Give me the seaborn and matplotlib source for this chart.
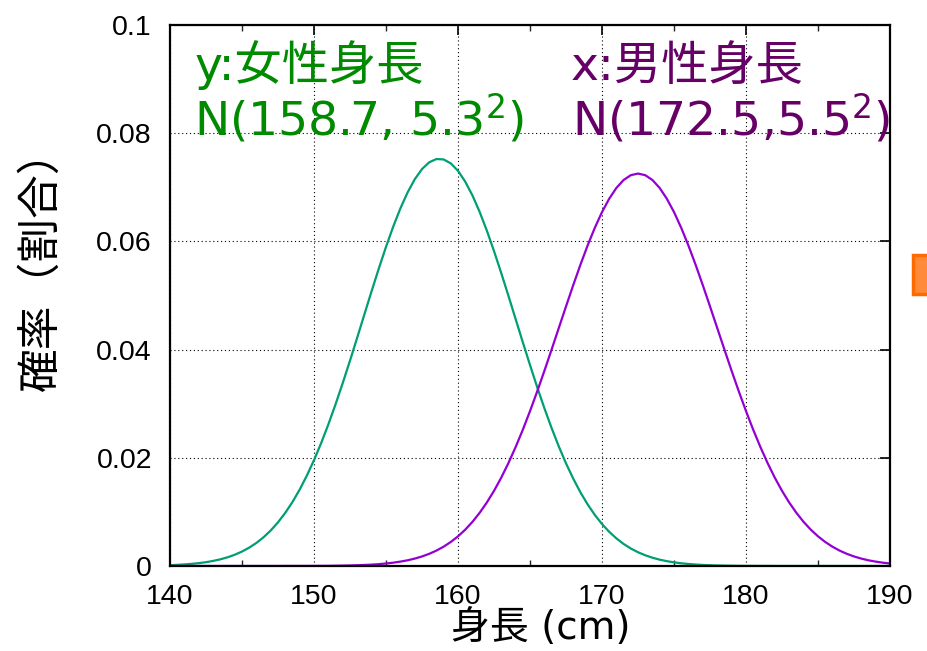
import matplotlib
matplotlib.use("Agg")
import matplotlib.pyplot as plt
import seaborn as sns
import pandas as pd
from matplotlib.patches import Rectangle

# heights (cm), 0.5 cm steps from 140 to 190
height_cm = [140 + 0.5 * i for i in range(101)]

# women: values (peak ~0.075 near 158.7)
female = [0.00015, 0.00021, 0.00029, 0.00039, 0.00053, 0.00070, 0.00094, 0.00123,
          0.00161, 0.00208, 0.00267, 0.00339, 0.00426, 0.00532, 0.00658, 0.00807,
          0.00981, 0.01181, 0.01410, 0.01669, 0.01957, 0.02274, 0.02620, 0.02992,
          0.03386, 0.03797, 0.04221, 0.04652, 0.05080, 0.05499, 0.05899, 0.06273,
          0.06611, 0.06906, 0.07150, 0.07337, 0.07462, 0.07522, 0.07515, 0.07442,
          0.07304, 0.07105, 0.06851, 0.06547, 0.06201, 0.05821, 0.05416, 0.04995,
          0.04565, 0.04136, 0.03714, 0.03305, 0.02915, 0.02549, 0.02209, 0.01897,
          0.01615, 0.01362, 0.01139, 0.00944, 0.00775, 0.00631, 0.00510, 0.00407,
          0.00323, 0.00254, 0.00198, 0.00153, 0.00117, 0.00089, 0.00067, 0.00050,
          0.00037, 0.00027, 0.00019, 0.00014, 0.00010, 0.00007, 0.00005, 0.00003,
          0.00002, 0.00002, 0.00001, 0.00001,
          0.0, 0.0, 0.0, 0.0, 0.0, 0.0, 0.0, 0.0, 0.0, 0.0, 0.0, 0.0, 0.0, 0.0, 0.0,
          0.0, 0.0]

# men: values (peak ~0.0725 near 172.5)
male = [0.0, 0.0, 0.0, 0.0, 0.0, 0.0, 0.0, 0.0, 0.0, 0.0, 0.0, 0.0, 0.0, 0.0, 0.0, 0.0,
        0.00001, 0.00001, 0.00001, 0.00001, 0.00002, 0.00002, 0.00003, 0.00005,
        0.00007, 0.00010, 0.00014, 0.00019, 0.00025, 0.00034, 0.00046, 0.00061,
        0.00081, 0.00105, 0.00137, 0.00176, 0.00225, 0.00284, 0.00357, 0.00444,
        0.00548, 0.00671, 0.00815, 0.00982, 0.01173, 0.01389, 0.01632, 0.01902,
        0.02198, 0.02518, 0.02863, 0.03227, 0.03608, 0.04001, 0.04400, 0.04798,
        0.05190, 0.05568, 0.05924, 0.06251, 0.06542, 0.06789, 0.06989, 0.07135,
        0.07224, 0.07254, 0.07224, 0.07135, 0.06989, 0.06789, 0.06542, 0.06251,
        0.05924, 0.05568, 0.05190, 0.04798, 0.04400, 0.04001, 0.03608, 0.03227,
        0.02863, 0.02518, 0.02198, 0.01902, 0.01632, 0.01389, 0.01173, 0.00982,
        0.00815, 0.00671, 0.00548, 0.00444, 0.00357, 0.00284, 0.00225, 0.00176,
        0.00137, 0.00105, 0.00081, 0.00061, 0.00046]

series_names = ["female", "male"]
line_colors = {"female": "#009E73", "male": "#9400D3"}

x_ticks = [140, 150, 160, 170, 180, 190]
x_minor = [145, 155, 165, 175, 185]
y_ticks = [0, 0.02, 0.04, 0.06, 0.08, 0.1]
y_tick_labels = ["0", "0.02", "0.04", "0.06", "0.08", "0.1"]

label_female_1 = "y:女性身長"
label_female_2 = "N(158.7, 5.3$^{2}$)"
label_male_1 = "x:男性身長"
label_male_2 = "N(172.5,5.5$^{2}$)"
xlabel = "身長 (cm)"
ylabel = "確率（割合）"

df = pd.DataFrame({
    "height": height_cm * 2,
    "p": female + male,
    "series": ["female"] * len(height_cm) + ["male"] * len(height_cm),
})

sns.set_style("white")
plt.rcParams["font.family"] = ["Liberation Sans", "Noto Sans CJK JP", "DejaVu Sans"]
plt.rcParams["mathtext.fontset"] = "dejavusans"

fig = plt.figure(figsize=(9.27, 6.51), dpi=100)
ax = fig.add_axes([0.1834, 0.1306, 0.9601 - 0.1834, 0.9616 - 0.1306])

sns.lineplot(data=df, x="height", y="p", hue="series", palette=line_colors,
             hue_order=series_names, linewidth=1.6, legend=False, ax=ax)

ax.set_xlim(140, 190)
ax.set_ylim(0, 0.1)
ax.set_xticks(x_ticks)
ax.set_xticks(x_minor, minor=True)
ax.set_xticklabels([str(t) for t in x_ticks])
ax.set_yticks(y_ticks)
ax.set_yticklabels(y_tick_labels)

ax.grid(True, which="major", color="black", linestyle=(0, (1, 2.5)), linewidth=0.8)
for s in ax.spines.values():
    s.set_visible(True)
    s.set_color("black")
    s.set_linewidth(1.6)

ax.tick_params(axis="both", which="major", direction="in", length=7, width=1.2,
               top=True, right=True, labelsize=20.5, colors="black")
ax.tick_params(axis="x", which="minor", direction="in", length=4, width=1.0,
               top=True, bottom=True)
ax.tick_params(axis="y", which="major", pad=13)
ax.tick_params(axis="x", which="major", pad=13)

lat_cjk = ["DejaVu Sans", "Noto Sans CJK JP"]
ax.set_xlabel(xlabel, fontsize=28, family=lat_cjk, color="black")
ax.xaxis.set_label_coords(0.515, -0.0795)
ax.set_ylabel(ylabel, fontsize=31.5, family=["Noto Sans CJK JP", "DejaVu Sans"],
              color="black")
ax.yaxis.set_label_coords(-0.148, 0.566)

green_text = "#008A00"
purple_text = "#660066"
ax.text(141.7, 0.0898, label_female_1, color=green_text, fontsize=34, family=lat_cjk,
        va="baseline", ha="left")
ax.text(141.7, 0.0797, label_female_2, color=green_text, fontsize=34, family=lat_cjk,
        va="baseline", ha="left")
ax.text(167.8, 0.0898, label_male_1, color=purple_text, fontsize=34, family=lat_cjk,
        va="baseline", ha="left")
ax.text(167.9, 0.0797, label_male_2, color=purple_text, fontsize=34, family=lat_cjk,
        va="baseline", ha="left")

# orange marker box at the right edge
fig.patches.append(Rectangle((0.985, 0.548), 0.05, 0.061, transform=fig.transFigure,
                             facecolor="#FF8A3A", edgecolor="#FF6A00", linewidth=2.5,
                             figure=fig))

fig.savefig("out.png", dpi=100)
